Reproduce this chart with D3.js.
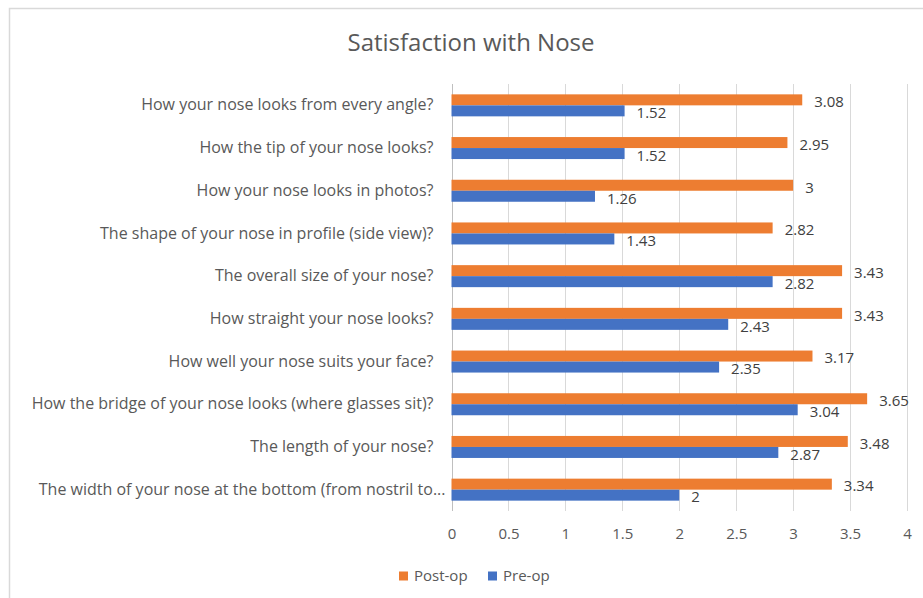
<!DOCTYPE html>
<html><head><meta charset="utf-8">
<script src="https://cdn.jsdelivr.net/npm/d3@7"></script>
<style>
body{margin:0;background:#fff;}
svg{display:block;font-family:"Open Sans",sans-serif;}
</style></head>
<body><svg id="c" width="923" height="598"></svg>
<script>
const title = "Satisfaction with Nose";
const categories = [
  "How your nose looks from every angle?",
  "How the tip of your nose looks?",
  "How your nose looks in photos?",
  "The shape of your nose in profile (side view)?",
  "The overall size of your nose?",
  "How straight your nose looks?",
  "How well your nose suits your face?",
  "How the bridge of your nose looks (where glasses sit)?",
  "The length of your nose?",
  "The width of your nose at the bottom (from nostril to..."
];
const postOp = [3.08, 2.95, 3, 2.82, 3.43, 3.43, 3.17, 3.65, 3.48, 3.34];
const preOp  = [1.52, 1.52, 1.26, 1.43, 2.82, 2.43, 2.35, 3.04, 2.87, 2];
const xTicks = [0, 0.5, 1, 1.5, 2, 2.5, 3, 3.5, 4];
const seriesNames = ["Post-op", "Pre-op"];
const colors = ["#ED7D31", "#4472C4"];

const svg = d3.select("#c");
// outer border
svg.append("path").attr("d","M9.5,598 V8.5 H923").attr("fill","none").attr("stroke","#d9d9d9").attr("stroke-width",1.5);

svg.append("text").attr("x",471).attr("y",51).attr("text-anchor","middle")
  .attr("font-size",24).attr("fill","#595959").text(title);

const x = d3.scaleLinear().domain([0,4]).range([451.5,907]);
const y = d3.scaleBand().domain(categories).range([84,511]).paddingInner(0).paddingOuter(0);
const bh = 11;

// gridlines
svg.append("g").selectAll("line").data(xTicks).join("line")
  .attr("x1",d=>Math.round(x(d))+0.5).attr("x2",d=>Math.round(x(d))+0.5)
  .attr("y1",84).attr("y2",511).attr("stroke",d=>d===0?"#bfbfbf":"#d9d9d9").attr("stroke-width",1);

// x axis tick labels
const xa = svg.append("g").attr("transform","translate(0,511)")
  .call(d3.axisBottom(x).tickValues(xTicks).tickSize(0).tickPadding(17).tickFormat(d=>String(d)));
xa.select(".domain").remove();
xa.selectAll("text").attr("font-size",15).attr("fill","#595959").attr("font-family","Open Sans");

// y axis labels
const ya = svg.append("g").attr("transform","translate(451.5,0)")
  .call(d3.axisLeft(y).tickSize(0).tickPadding(18));
ya.select(".domain").remove();
ya.selectAll("text").attr("font-size",16).attr("fill","#595959").attr("font-family","Open Sans")
  .attr("dx",(d,i)=>i===categories.length-1?12:0);

const series = [postOp, preOp];
series.forEach((vals,si)=>{
  const g = svg.append("g");
  g.selectAll("rect").data(vals).join("rect")
    .attr("x",x(0)).attr("width",d=>x(d)-x(0))
    .attr("y",(d,i)=>y(categories[i])+y.bandwidth()/2 - bh + si*bh)
    .attr("height",bh).attr("fill",colors[si]);
  g.selectAll("text").data(vals).join("text")
    .attr("x",d=>x(d)+12)
    .attr("y",(d,i)=>y(categories[i])+y.bandwidth()/2 - bh/2 + si*bh + 2)
    .attr("dy","0.35em").attr("font-size",15).attr("fill","#404040")
    .text(d=>String(d));
});

// legend
const legX = [399, 488];
seriesNames.forEach((n,i)=>{
  svg.append("rect").attr("x",legX[i]).attr("y",571.5).attr("width",9).attr("height",9).attr("fill",colors[i]);
  svg.append("text").attr("x",legX[i]+15).attr("y",576).attr("dy","0.35em")
    .attr("font-size",15).attr("fill","#595959").text(n);
});
</script></body></html>
